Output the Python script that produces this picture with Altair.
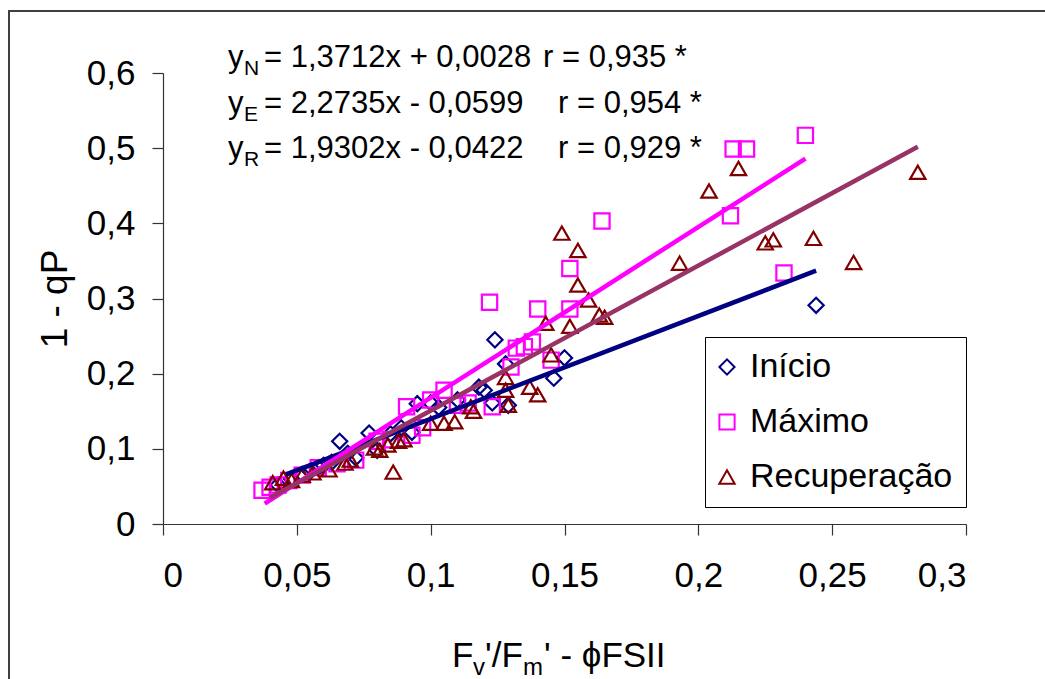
import altair as alt
import pandas as pd

series = ["Início", "Máximo", "Recuperação"]
point_colors = ["#000080", "#FF00FF", "#800000"]
line_colors = ["#000080", "#FF00FF", "#993366"]
shapes = ["diamond", "square", "triangle-up"]
point_sizes = [230, 235, 290]

inicio_x = [0.043, 0.048, 0.052, 0.055, 0.058, 0.060, 0.063, 0.066, 0.069, 0.072, 0.077, 0.080,
            0.085, 0.089, 0.093, 0.095, 0.100, 0.103, 0.110, 0.118, 0.120, 0.123, 0.124, 0.128,
            0.129, 0.146, 0.150, 0.244]
inicio_y = [0.052, 0.060, 0.066, 0.070, 0.075, 0.078, 0.082, 0.110, 0.094, 0.088, 0.121, 0.098,
            0.120, 0.128, 0.122, 0.160, 0.161, 0.155, 0.165, 0.182, 0.178, 0.161, 0.245, 0.213,
            0.158, 0.194, 0.221, 0.291]

maximo_x = [0.037, 0.040, 0.043, 0.047, 0.052, 0.058, 0.065, 0.072, 0.080, 0.085, 0.091, 0.093,
            0.097, 0.100, 0.105, 0.110, 0.114, 0.122, 0.123, 0.130, 0.132, 0.135, 0.138, 0.140,
            0.145, 0.152, 0.152, 0.164, 0.212, 0.213, 0.218, 0.232, 0.240]
maximo_y = [0.045, 0.049, 0.052, 0.058, 0.065, 0.075, 0.080, 0.085, 0.110, 0.112, 0.156, 0.118,
            0.128, 0.165, 0.178, 0.158, 0.161, 0.295, 0.156, 0.209, 0.234, 0.236, 0.242, 0.286,
            0.218, 0.340, 0.286, 0.403, 0.410, 0.499, 0.499, 0.334, 0.517]

recup_x = [0.041, 0.045, 0.048, 0.052, 0.056, 0.062, 0.068, 0.070, 0.079, 0.081, 0.084, 0.086,
           0.088, 0.090, 0.100, 0.105, 0.109, 0.115, 0.116, 0.128, 0.128, 0.129, 0.137, 0.140,
           0.143, 0.145, 0.149, 0.152, 0.155, 0.155, 0.159, 0.163, 0.165, 0.193, 0.204, 0.215,
           0.225, 0.228, 0.243, 0.258, 0.282]
recup_y = [0.055, 0.061, 0.058, 0.065, 0.068, 0.072, 0.081, 0.085, 0.101, 0.098, 0.105, 0.069,
           0.110, 0.112, 0.134, 0.134, 0.136, 0.156, 0.150, 0.195, 0.178, 0.158, 0.182, 0.172,
           0.267, 0.225, 0.387, 0.263, 0.364, 0.318, 0.298, 0.278, 0.275, 0.347, 0.443, 0.473,
           0.374, 0.378, 0.380, 0.348, 0.468]

# trend line end points
line_x0 = [0.046, 0.038, 0.040]
line_y0 = [0.066, 0.027, 0.035]
line_x1 = [0.244, 0.240, 0.282]
line_y1 = [0.337, 0.486, 0.502]

x_ticks = [0, 0.05, 0.1, 0.15, 0.2, 0.25, 0.3]
y_ticks = [0, 0.1, 0.2, 0.3, 0.4, 0.5, 0.6]

# layout (absolute pixels)
PL, PT, PW, PH = 163, 73, 803, 451
FONT = "Liberation Sans"

# text pieces: text, x_abs, baseline_abs, size
eq_pieces = [
    ("y", 228, 67, 31), ("N", 244, 75, 21), ("= 1,3712x + 0,0028", 264, 67, 31), ("r = 0,935 *", 543, 67, 31),
    ("y", 228, 113, 31), ("E", 244, 121, 21), ("= 2,2735x - 0,0599", 264, 113, 31), ("r = 0,954 *", 558, 113, 31),
    ("y", 228, 158, 31), ("R", 244, 166, 21), ("= 1,9302x - 0,0422", 264, 158, 31), ("r = 0,929 *", 558, 158, 31),
    ("F", 452, 667, 35), ("v", 473, 675, 24), ("'/F", 485, 667, 35), ("m", 523, 675, 24), ("' - ϕFSII", 544, 667, 35),
]

rows = []
for s, xs, ys in zip(series, [inicio_x, maximo_x, recup_x], [inicio_y, maximo_y, recup_y]):
    for a, b in zip(xs, ys):
        rows.append({"serie": s, "x": a, "y": b})
pts = pd.DataFrame(rows)

lrows = []
for s, c, a0, b0, a1, b1 in zip(series, line_colors, line_x0, line_y0, line_x1, line_y1):
    lrows.append({"serie": s, "cor": c, "x": a0, "y": b0, "o": 0})
    lrows.append({"serie": s, "cor": c, "x": a1, "y": b1, "o": 1})
lines = pd.DataFrame(lrows)

txt = pd.DataFrame([{"t": t, "px": x - PL, "py": y - PT, "fs": f} for t, x, y, f in eq_pieces])

label_expr = "replace(format(datum.value, '~g'), '.', ',')"
xscale = alt.Scale(domain=[0, 0.3], nice=False, zero=True)
yscale = alt.Scale(domain=[0, 0.6], nice=False, zero=True)

frame = alt.Chart(pd.DataFrame({"a": [0]})).mark_rect(
    fill=None, stroke="#404040", strokeWidth=2
).encode(
    x=alt.value(9 - PL), x2=alt.value(1060 - PL), y=alt.value(11 - PT), y2=alt.value(700 - PT)
)

legend = alt.Legend(
    title=None, orient="none", legendX=705 - PL, legendY=337 - PT,
    labelFontSize=34, labelFont=FONT, labelColor="black", labelLimit=400,
    symbolSize=150, symbolStrokeWidth=2, symbolFillColor="white", symbolOffset=-8,
    strokeColor="black", fillColor="white", padding=13, rowPadding=21, labelOffset=6,
)

points = alt.Chart(pts).mark_point(filled=False, strokeWidth=2.2, opacity=1).encode(
    x=alt.X("x:Q", scale=xscale, axis=alt.Axis(values=x_ticks, labelExpr=label_expr, title=None)),
    y=alt.Y("y:Q", scale=yscale, axis=alt.Axis(values=y_ticks, labelExpr=label_expr, title="1 - qP")),
    color=alt.Color("serie:N", scale=alt.Scale(domain=series, range=point_colors), legend=legend),
    shape=alt.Shape("serie:N", scale=alt.Scale(domain=series, range=shapes), legend=legend),
    size=alt.Size("serie:N", scale=alt.Scale(domain=series, range=point_sizes), legend=None),
)

trend = alt.Chart(lines).mark_line(strokeWidth=4.5).encode(
    x=alt.X("x:Q", scale=xscale),
    y=alt.Y("y:Q", scale=yscale),
    detail="serie:N",
    order="o:Q",
    stroke=alt.Stroke("cor:N", scale=None),
)

texts = alt.Chart(txt).mark_text(align="left", baseline="alphabetic", font=FONT, color="black").encode(
    x=alt.X("px:Q", scale=None),
    y=alt.Y("py:Q", scale=None),
    text="t:N",
    size=alt.Size("fs:Q", scale=None),
)

chart = alt.layer(frame, points, trend, texts).properties(
    width=PW, height=PH,
    autosize=alt.AutoSizeParams(type="none"),
    padding={"left": PL, "top": PT, "right": 1045 - PL - PW, "bottom": 679 - PT - PH},
    background="white",
).configure_view(stroke=None).configure_axis(
    grid=False, domainColor="#333333", tickColor="#333333", domainWidth=1.2, tickWidth=1.2,
    tickSize=11, labelFont=FONT, labelFontSize=35, labelColor="black",
    titleFont=FONT, titleFontSize=37, titleFontWeight="normal", titleColor="black",
).configure_axisX(labelPadding=23).configure_axisY(labelPadding=17, titlePadding=12)

chart.save("out.html", embed_options={"renderer": "svg", "actions": False})
